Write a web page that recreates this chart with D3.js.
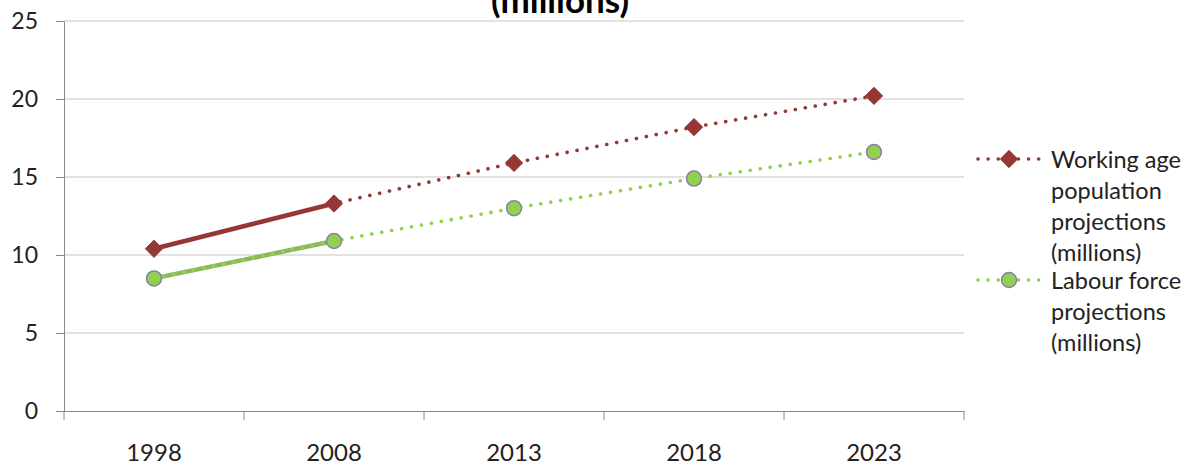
<!DOCTYPE html>
<html>
<head>
<meta charset="utf-8">
<script src="https://cdn.jsdelivr.net/npm/d3@7"></script>
<style>
  html, body { margin: 0; padding: 0; background: #fff; }
  svg { display: block; font-family: Lato, "Open Sans", sans-serif; }
</style>
</head>
<body>
<svg id="chart" width="1190" height="465"></svg>
<script>
// Categories (years) and series values, in millions
const years = ["1998", "2008", "2013", "2018", "2023"];
const workingAgeActual = [10.4, 13.3];
const labourActual = [8.5, 10.9];
const workingAgeProj = [10.4, 13.3, 15.9, 18.2, 20.2];
const labourProj = [8.5, 10.9, 13.0, 14.9, 16.6];
const yTicks = [0, 5, 10, 15, 20, 25];
const legendLabels = [
  ["Working age", "population", "projections", "(millions)"],
  ["Labour force", "projections", "(millions)"]
];
const titleLines = ["Working age population and labour force projections", "(millions)"];

const svg = d3.select("#chart");
const plot = { left: 64, right: 964, top: 21, bottom: 411 };

const x = d3.scaleBand().domain(years).range([plot.left, plot.right]);
const y = d3.scaleLinear().domain([0, 25]).range([plot.bottom, plot.top]);
const cx = d => x(d) + x.bandwidth() / 2;

const red = "#953735";
const green = "#92D050";
const greenDark = "#8CB85A";

// Title (its first line runs above the top edge of the chart)
svg.append("text")
  .attr("x", 560).attr("y", 13)
  .attr("text-anchor", "middle")
  .attr("font-size", 35).attr("font-weight", "bold")
  .selectAll("tspan").data(titleLines).join("tspan")
  .attr("x", 560).attr("y", (d, i) => 13 - (titleLines.length - 1 - i) * 42)
  .text(d => d);

// Horizontal gridlines
svg.append("g").selectAll("line").data(yTicks.filter(t => t > 0)).join("line")
  .attr("x1", plot.left).attr("x2", plot.right)
  .attr("y1", d => y(d)).attr("y2", d => y(d))
  .attr("stroke", "#C6C6C6").attr("stroke-width", 1.2);

// Y axis
const yAxis = svg.append("g")
  .attr("transform", `translate(${plot.left},0)`)
  .call(d3.axisLeft(y).tickValues(yTicks).tickSize(8).tickPadding(18));
yAxis.select(".domain").attr("stroke", "#8A8A8A");
yAxis.selectAll(".tick line").attr("stroke", "#8A8A8A");
yAxis.selectAll("text").attr("font-size", 23).attr("fill", "#222")
  .attr("font-family", "Lato, sans-serif");

// X axis with ticks at category boundaries
const xAxis = svg.append("g")
  .attr("transform", `translate(0,${plot.bottom})`)
  .call(d3.axisBottom(x).tickSize(0).tickPadding(33));
xAxis.select(".domain").attr("stroke", "#8A8A8A");
xAxis.selectAll("text").attr("font-size", 24).attr("fill", "#222")
  .attr("font-family", "Lato, sans-serif");
const bounds = years.map(d => x(d)).concat([plot.right]);
xAxis.selectAll(".bound").data(bounds).join("line")
  .attr("class", "bound")
  .attr("x1", d => d).attr("x2", d => d)
  .attr("y1", 0).attr("y2", 9)
  .attr("stroke", "#8A8A8A");

const line = d3.line().x((d, i) => cx(years[i])).y(d => y(d));

// Projection (dotted) lines
function dotted(values, color) {
  svg.append("path").datum(values)
    .attr("d", line).attr("fill", "none")
    .attr("stroke", color).attr("stroke-width", 3.6)
    .attr("stroke-linecap", "round")
    .attr("stroke-dasharray", "0.1 10");
}
// Actual (solid) lines
function solid(values, color) {
  svg.append("path").datum(values)
    .attr("d", line).attr("fill", "none")
    .attr("stroke", color).attr("stroke-width", 4.5);
}

solid(workingAgeActual, red);
dotted(workingAgeProj, red);
solid(labourActual, greenDark);
dotted(labourProj, green);

// Markers
const diamond = d3.symbol().type(d3.symbolDiamond2).size(190);
function diamonds(g, values) {
  g.selectAll("path.m").data(values).join("path").attr("class", "m")
    .attr("d", diamond)
    .attr("transform", (d, i) => `translate(${cx(years[i])},${y(d)})`)
    .attr("fill", red).attr("stroke", red).attr("stroke-width", 1);
}
function circles(g, values) {
  g.selectAll("circle").data(values).join("circle")
    .attr("cx", (d, i) => cx(years[i])).attr("cy", d => y(d))
    .attr("r", 7.5)
    .attr("fill", green).attr("stroke", "#8B7FA8").attr("stroke-width", 1.5);
}
diamonds(svg.append("g"), workingAgeProj);
circles(svg.append("g"), labourProj);

// Legend
const legend = svg.append("g");
const legY = [159, 280];
const lineH = 31;
const colors = [red, green];
legendLabels.forEach((lines, k) => {
  const g = legend.append("g").attr("transform", `translate(0,${legY[k]})`);
  g.append("line").attr("x1", 978).attr("x2", 1040).attr("y1", 0).attr("y2", 0)
    .attr("stroke", colors[k]).attr("stroke-width", 3.6)
    .attr("stroke-linecap", "round").attr("stroke-dasharray", "0.1 10");
  if (k === 0) {
    g.append("path").attr("d", diamond).attr("transform", "translate(1009,0)")
      .attr("fill", red).attr("stroke", red);
  } else {
    g.append("circle").attr("cx", 1009).attr("cy", 0).attr("r", 7.5)
      .attr("fill", green).attr("stroke", "#8B7FA8").attr("stroke-width", 1.5);
  }
  g.append("text").attr("x", 1051).attr("y", 0)
    .attr("font-size", 23.5).attr("fill", "#222")
    .selectAll("tspan").data(lines).join("tspan")
    .attr("x", 1051).attr("y", (d, i) => i * lineH)
    .attr("dominant-baseline", "central")
    .text(d => d);
});
</script>
</body>
</html>
